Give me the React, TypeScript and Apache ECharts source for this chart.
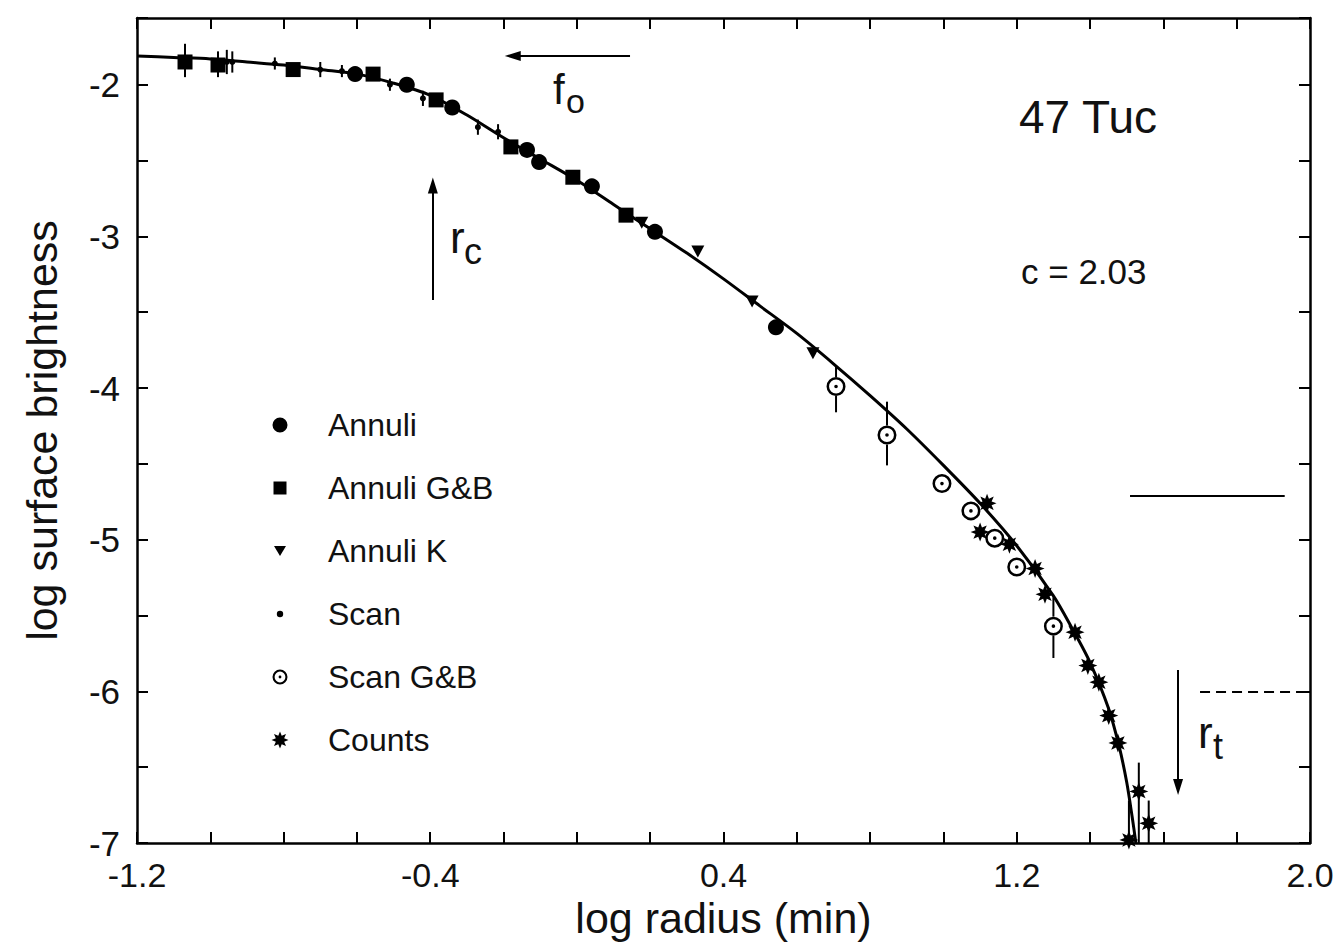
import React, { useEffect, useRef } from 'react';
import * as echarts from 'echarts';

const FONT = "'Liberation Sans', Arial, Helvetica, sans-serif";
const INK = '#111';

// ---- model curve ----
const curveX = [-1.2, -1.1, -1.0, -0.9, -0.8, -0.7, -0.6, -0.5, -0.4, -0.3, -0.2, -0.1, 0.0, 0.1, 0.2, 0.3, 0.4, 0.5, 0.6, 0.7, 0.8, 0.9, 1.0, 1.1, 1.2, 1.3, 1.35, 1.4, 1.45, 1.48, 1.5, 1.515, 1.525];
const curveY = [-1.81, -1.82, -1.83, -1.85, -1.87, -1.9, -1.93, -1.99, -2.07, -2.2, -2.35, -2.49, -2.63, -2.79, -2.95, -3.11, -3.28, -3.46, -3.64, -3.84, -4.05, -4.27, -4.51, -4.76, -5.04, -5.37, -5.58, -5.81, -6.11, -6.37, -6.6, -6.83, -7.0];

// ---- data series ----
const annuliX = [-0.605, -0.464, -0.34, -0.136, -0.103, 0.041, 0.213, 0.543];
const annuliY = [-1.93, -2.0, -2.15, -2.43, -2.51, -2.67, -2.97, -3.6];

const annuliGBX = [-1.069, -0.979, -0.774, -0.556, -0.384, -0.18, -0.011, 0.134];
const annuliGBY = [-1.85, -1.87, -1.9, -1.93, -2.1, -2.41, -2.61, -2.86];
const annuliGBLo = [-1.95, -1.95, null, null, null, null, null, null];
const annuliGBHi = [-1.73, -1.78, null, null, null, null, null, null];

const annuliKX = [0.177, 0.33, 0.478, 0.644];
const annuliKY = [-2.91, -3.1, -3.43, -3.77];

const scanX = [-0.955, -0.94, -0.824, -0.7, -0.641, -0.51, -0.42, -0.27, -0.215];
const scanY = [-1.85, -1.85, -1.86, -1.9, -1.91, -2.0, -2.09, -2.28, -2.31];
const scanLo = [-1.93, -1.92, -1.9, -1.95, -1.95, -2.04, -2.14, -2.33, -2.36];
const scanHi = [-1.77, -1.78, -1.82, -1.85, -1.87, -1.96, -2.04, -2.23, -2.26];

const scanGBX = [0.707, 0.846, 0.996, 1.075, 1.14, 1.2, 1.3];
const scanGBY = [-3.99, -4.31, -4.63, -4.81, -4.99, -5.18, -5.57];
const scanGBLo = [-4.16, -4.51, null, null, null, null, -5.78];
const scanGBHi = [-3.85, -4.09, null, null, null, null, -5.38];

const countsX = [1.119, 1.1, 1.18, 1.25, 1.277, 1.359, 1.394, 1.424, 1.451, 1.476, 1.533, 1.56, 1.506];
const countsY = [-4.76, -4.95, -5.03, -5.19, -5.36, -5.61, -5.83, -5.94, -6.16, -6.34, -6.66, -6.87, -6.98];
const countsLo = [null, null, null, null, null, null, null, null, null, null, -7.0, -7.0, -7.0];
const countsHi = [null, null, null, null, null, null, null, null, null, null, -6.47, -6.72, -6.72];

// ---- annotation lines (data coordinates) ----
const arrowFo = [[0.145, -1.81], [-0.175, -1.81]];
const arrowRc = [[-0.393, -3.42], [-0.393, -2.665]];
const arrowRt = [[1.64, -5.86], [1.64, -6.63]];
const solidRef = [[1.509, -4.71], [1.931, -4.71]];
const dashedRef = [[1.7, -6.0], [2.0, -6.0]];

// ---- axis ticks ----
const xMin = -1.2, xMax = 2.0, xStep = 0.2, xLabelStep = 0.8;
const yMin = -7, yMax = -1.56, yStep = 0.5;

const legendNames = ['Annuli', 'Annuli G&B', 'Annuli K', 'Scan', 'Scan G&B', 'Counts'];

function circ(cx: number, cy: number, r: number, sweep: number) {
  return `M${cx},${cy - r}A${r},${r} 0 1,${sweep} ${cx},${cy + r}A${r},${r} 0 1,${sweep} ${cx},${cy - r}Z`;
}
function starPath(cx: number, cy: number, R: number, r: number, n: number) {
  let d = '';
  for (let i = 0; i < 2 * n; i++) {
    const a = (Math.PI * i) / n - Math.PI / 2;
    const rad = i % 2 === 0 ? R : r;
    d += (i === 0 ? 'M' : 'L') + (cx + rad * Math.cos(a)).toFixed(2) + ',' + (cy + rad * Math.sin(a)).toFixed(2);
  }
  return d + 'Z';
}

const PAD = 'M0,0M24,24';
const symRing = 'path://' + circ(12, 12, 12, 0) + circ(12, 12, 8.8, 1) + circ(12, 12, 2.3, 0);
const symStar = 'path://' + starPath(12, 12, 12, 6.2, 8);
const symTri = 'path://M0,0L12,0L6,11Z';
const iconCircle = 'path://' + PAD + circ(12, 12, 7.5, 0);
const iconSquare = 'path://' + PAD + 'M5.5,5.5L18.5,5.5L18.5,18.5L5.5,18.5Z';
const iconTri = 'path://' + PAD + 'M6,7L18,7L12,17Z';
const iconDot = 'path://' + PAD + circ(12, 12, 3.2, 0);
const iconRing = 'path://' + PAD + circ(12, 12, 7.5, 0) + circ(12, 12, 5.4, 1) + circ(12, 12, 1.4, 0);
const iconStar = 'path://' + PAD + starPath(12, 12, 8.5, 4.5, 8);

function zip(xs: number[], ys: number[]) {
  return xs.map((x, i) => [x, ys[i]]);
}
function errRows(xs: number[], ys: number[], lo: (number | null)[], hi: (number | null)[]) {
  const rows: number[][] = [];
  xs.forEach((x, i) => {
    if (lo[i] != null && hi[i] != null) rows.push([x, lo[i] as number, hi[i] as number, ys[i]]);
  });
  return rows;
}

function errSeries(name: string, rows: number[][], gap: number) {
  return {
    type: 'custom',
    name,
    silent: true,
    z: 3,
    clip: true,
    encode: { x: 0, y: [1, 2] },
    data: rows,
    renderItem: (_p: any, api: any) => {
      const x = api.value(0);
      const pLo = api.coord([x, api.value(1)]);
      const pHi = api.coord([x, api.value(2)]);
      const pc = api.coord([x, api.value(3)]);
      const style = { stroke: '#000', lineWidth: 2 };
      const children: any[] = [];
      if (gap > 0) {
        children.push({ type: 'line', shape: { x1: pHi[0], y1: pHi[1], x2: pc[0], y2: pc[1] - gap }, style });
        children.push({ type: 'line', shape: { x1: pc[0], y1: pc[1] + gap, x2: pLo[0], y2: pLo[1] }, style });
      } else {
        children.push({ type: 'line', shape: { x1: pHi[0], y1: pHi[1], x2: pLo[0], y2: pLo[1] }, style });
      }
      return { type: 'group', children };
    },
  };
}

function mlPair(p: number[][], toSymbol: string, lineType: any) {
  const ls = { color: '#000', width: 2, type: lineType };
  return [
    { coord: p[0], symbol: 'none', lineStyle: ls },
    { coord: p[1], symbol: toSymbol, symbolSize: [10, 16], lineStyle: ls },
  ];
}

export default function App() {
  const ref = useRef<HTMLDivElement>(null);
  useEffect(() => {
    const chart = echarts.init(ref.current as HTMLDivElement, null, { renderer: 'svg' });
    const axisLine = { show: true, onZero: false, lineStyle: { color: '#000', width: 2.5 } };
    const axisTick = { show: true, inside: true, length: 11, lineStyle: { color: '#000', width: 2 } };
    const xFmt = (v: number) => {
      const k = (v - xMin) / xLabelStep;
      return Math.abs(k - Math.round(k)) < 1e-6 ? v.toFixed(1) : '';
    };
    const yFmt = (v: number) => (Math.abs(v - Math.round(v)) < 1e-6 ? String(Math.round(v)) : '');
    const scatterBase = { type: 'scatter', silent: true, z: 4, itemStyle: { color: '#000', opacity: 1 } };

    const option: any = {
      animation: false,
      backgroundColor: '#fff',
      grid: { left: 137, right: 30, top: 18, bottom: 107, containLabel: false },
      xAxis: [
        {
          type: 'value', min: xMin, max: xMax, interval: xStep, position: 'bottom',
          axisLine, axisTick, splitLine: { show: false },
          axisLabel: { formatter: xFmt, fontSize: 34, fontFamily: FONT, color: INK, margin: 15, showMinLabel: true, showMaxLabel: true },
          name: 'log radius (min)', nameLocation: 'middle', nameGap: 44,
          nameTextStyle: { fontSize: 43, fontFamily: FONT, color: INK },
        },
        {
          type: 'value', min: xMin, max: xMax, interval: xStep, position: 'top',
          axisLine, axisTick, splitLine: { show: false }, axisLabel: { show: false },
        },
      ],
      yAxis: [
        {
          type: 'value', min: yMin, max: yMax, interval: yStep, position: 'left',
          axisLine, axisTick, splitLine: { show: false },
          axisLabel: { formatter: yFmt, fontSize: 35, fontFamily: FONT, color: INK, margin: 17, showMinLabel: true, showMaxLabel: true },
          name: 'log surface brightness', nameLocation: 'middle', nameGap: 74,
          nameTextStyle: { fontSize: 43, fontFamily: FONT, color: INK },
        },
        {
          type: 'value', min: yMin, max: yMax, interval: yStep, position: 'right',
          axisLine, axisTick, splitLine: { show: false }, axisLabel: { show: false },
        },
      ],
      legend: {
        orient: 'vertical', left: 263, top: 404, itemWidth: 24, itemHeight: 24, itemGap: 31,
        selectedMode: false,
        textStyle: { fontFamily: FONT, fontSize: 32, lineHeight: 32, color: INK, padding: [0, 0, 0, 31] },
        data: [
          { name: legendNames[0], icon: iconCircle },
          { name: legendNames[1], icon: iconSquare },
          { name: legendNames[2], icon: iconTri },
          { name: legendNames[3], icon: iconDot },
          { name: legendNames[4], icon: iconRing },
          { name: legendNames[5], icon: iconStar },
        ],
      },
      series: [
        {
          type: 'line', name: 'King model', data: zip(curveX, curveY), showSymbol: false, silent: true,
          smooth: 0.3, z: 2,
          lineStyle: { color: '#000', width: 3 }, itemStyle: { color: '#000' },
          markLine: {
            silent: true, animation: false, label: { show: false }, symbol: ['none', 'none'],
            data: [
              mlPair(arrowFo, 'triangle', 'solid'),
              mlPair(arrowRc, 'triangle', 'solid'),
              mlPair(arrowRt, 'triangle', 'solid'),
              mlPair(solidRef, 'none', 'solid'),
              mlPair(dashedRef, 'none', [10, 6]),
            ],
          },
        },
        errSeries('err GB', errRows(annuliGBX, annuliGBY, annuliGBLo, annuliGBHi), 0),
        errSeries('err scan', errRows(scanX, scanY, scanLo, scanHi), 0),
        errSeries('err scanGB', errRows(scanGBX, scanGBY, scanGBLo, scanGBHi), 9.5),
        errSeries('err counts', errRows(countsX, countsY, countsLo, countsHi), 0),
        { ...scatterBase, name: legendNames[0], symbol: 'circle', symbolSize: 16, data: zip(annuliX, annuliY) },
        { ...scatterBase, name: legendNames[1], symbol: 'rect', symbolSize: 15, data: zip(annuliGBX, annuliGBY) },
        { ...scatterBase, name: legendNames[2], symbol: symTri, symbolSize: [13, 12], data: zip(annuliKX, annuliKY) },
        { ...scatterBase, name: legendNames[3], symbol: 'circle', symbolSize: 6, data: zip(scanX, scanY) },
        { ...scatterBase, name: legendNames[4], symbol: symRing, symbolSize: 19, data: zip(scanGBX, scanGBY) },
        { ...scatterBase, name: legendNames[5], symbol: symStar, symbolSize: 19, data: zip(countsX, countsY) },
      ],
      graphic: [
        { type: 'text', x: 1019, y: 117, silent: true, style: { text: '47 Tuc', fontSize: 46, fontFamily: FONT, fill: INK, align: 'left', verticalAlign: 'middle' } },
        { type: 'text', x: 1021, y: 271, silent: true, style: { text: 'c = 2.03', fontSize: 35, fontFamily: FONT, fill: INK, align: 'left', verticalAlign: 'middle' } },
        { type: 'text', x: 553, y: 89, silent: true, style: { text: 'f', fontSize: 42, fontFamily: FONT, fill: INK, align: 'left', verticalAlign: 'middle' } },
        { type: 'text', x: 566, y: 101, silent: true, style: { text: 'o', fontSize: 34, fontFamily: FONT, fill: INK, align: 'left', verticalAlign: 'middle' } },
        { type: 'text', x: 450, y: 237, silent: true, style: { text: 'r', fontSize: 44, fontFamily: FONT, fill: INK, align: 'left', verticalAlign: 'middle' } },
        { type: 'text', x: 464, y: 251, silent: true, style: { text: 'c', fontSize: 36, fontFamily: FONT, fill: INK, align: 'left', verticalAlign: 'middle' } },
        { type: 'text', x: 1198, y: 732, silent: true, style: { text: 'r', fontSize: 44, fontFamily: FONT, fill: INK, align: 'left', verticalAlign: 'middle' } },
        { type: 'text', x: 1213, y: 746, silent: true, style: { text: 't', fontSize: 36, fontFamily: FONT, fill: INK, align: 'left', verticalAlign: 'middle' } },
      ],
    };
    chart.setOption(option);
    return () => chart.dispose();
  }, []);
  return <div ref={ref} style={{ position: 'fixed', left: 0, top: 0, width: 1340, height: 950, background: '#fff' }} />;
}
